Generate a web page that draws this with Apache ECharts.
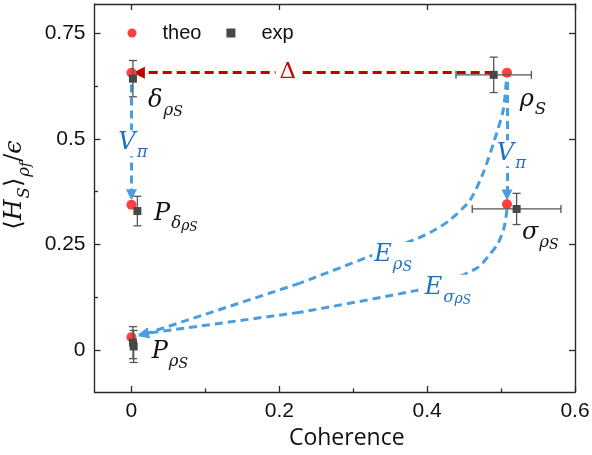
<!DOCTYPE html>
<html><head><meta charset="utf-8">
<script src="https://cdn.jsdelivr.net/npm/echarts@6/dist/echarts.min.js"></script>
<style>html,body{margin:0;padding:0;background:#fff}#c{width:592px;height:455px}</style>
</head><body><div id="c"></div>
<script>
// ---- data ----
const xTicks = [0, 0.2, 0.4, 0.6];
const xMinor = [0.1, 0.3, 0.5];
const yTicks = [0, 0.25, 0.5, 0.75];
const yMinor = [0.125, 0.375, 0.625];
const theoX = [0, 0.508, 0, 0.508, 0];
const theoY = [0.657, 0.657, 0.344, 0.345, 0.030];
const expX = [0.002, 0.490, 0.008, 0.521, 0.002, 0.003];
const expY = [0.643, 0.652, 0.329, 0.334, 0.017, 0.008];
const expXErr = [0, 0.051, 0, 0.060, 0, 0];
const expYErr = [0.043, 0.042, 0.035, 0.037, 0.038, 0.038];
// annotation paths (data coordinates)
const deltaPath = [[0.490, 0.657], [0.010, 0.657]];
const vpiLeftPath = [[0, 0.629], [0, 0.368]];
const vpiRightPath = [[0.508, 0.635], [0.508, 0.367]];
const ePath = [[0.507, 0.636], [0.503, 0.569], [0.491, 0.497], [0.476, 0.420], [0.458, 0.355], [0.431, 0.308], [0.410, 0.284], [0.388, 0.265], [0.323, 0.222], [0.228, 0.158]];
const eArrow = [[0.228, 0.158], [0.016, 0.036]];
const eSigPath = [[0.508, 0.332], [0.504, 0.289], [0.496, 0.253], [0.485, 0.227], [0.469, 0.196], [0.431, 0.165], [0.386, 0.141], [0.228, 0.089]];
const eSigArrow = [[0.228, 0.089], [0.016, 0.038]];
// annotation texts
const pointLabels = [
  {t: '{m|δ}{s|ρ}{ss|S}', at: [0.046, 0.591]},
  {t: '{m|ρ}{s|S}', at: [0.543, 0.593]},
  {t: '{m|P}{s|δ}{ss|ρ}{sss|S}', at: [0.060, 0.322]},
  {t: '{m|σ}{s|ρ}{ss|S}', at: [0.553, 0.277]},
  {t: '{m|P}{s|ρ}{ss|S}', at: [0.052, -0.005]}
];
const lineLabels = [
  {t: '{m|V}{s|π}', at: [0.002, 0.490]},
  {t: '{m|V}{s|π}', at: [0.514, 0.466]},
  {t: '{m|E}{s|ρ}{ss|S}', at: [0.354, 0.225]},
  {t: '{m|E}{s|σ}{ss|ρ}{sss|S}', at: [0.428, 0.147]}
];
const deltaLabel = {t: 'Δ', at: [0.2115, 0.659]};

const MF = '"DejaVu Serif", "Liberation Serif", serif';
function rich(color, k) {
  k = k || 1;
  return {
    m: {fontFamily: MF, fontStyle: 'italic', fontSize: 24 * k, lineHeight: 24 * k, verticalAlign: 'top', color: color},
    s: {fontFamily: MF, fontStyle: 'italic', fontSize: 16.5 * k, lineHeight: 16 * k, padding: [13.5 * k, 0, 0, 1], verticalAlign: 'top', color: color},
    ss: {fontFamily: MF, fontStyle: 'italic', fontSize: 14 * k, lineHeight: 14 * k, padding: [17 * k, 0, 0, 0], verticalAlign: 'top', color: color},
    sss: {fontFamily: MF, fontStyle: 'italic', fontSize: 12 * k, lineHeight: 12 * k, padding: [19.5 * k, 0, 0, 0], verticalAlign: 'top', color: color},
    n: {fontFamily: MF, fontSize: 24 * k, lineHeight: 24 * k, verticalAlign: 'top', color: color}
  };
}
const BLUE = '#4a9ee0', BLUE_T = '#1f70c1', RED = '#c00000';
const XMIN = -0.05, XMAX = 0.6, YMIN = -0.1, YMAX = 0.82;
const AX = '#2b2b2b';
const tickFmt = v => (Math.round(v * 100) / 100).toString();
const HIDDEN = 'rgba(0,0,0,0)';

function xAxisDef(o) {
  return Object.assign({type: 'value', min: XMIN, max: XMAX, splitLine: {show: false},
    axisLine: {show: false, onZero: false}, axisLabel: {show: false}, axisTick: {show: false}}, o);
}
function yAxisDef(o) {
  return Object.assign({type: 'value', min: YMIN, max: YMAX, splitLine: {show: false},
    axisLine: {show: false, onZero: false}, axisLabel: {show: false}, axisTick: {show: false}}, o);
}
const lineStyleAx = {show: true, onZero: false, lineStyle: {color: AX, width: 1.4}};
const labelScatter = {type: 'scatter', silent: true, z: 2, symbolSize: 1,
  itemStyle: {color: HIDDEN, opacity: 1}, emphasis: {disabled: true}};
const TICKFONT = '"Liberation Sans", Arial, sans-serif';

const chart = echarts.init(document.getElementById('c'));
const option = {
  animation: false,
  grid: {left: 94.5, right: 17, top: 4, bottom: 63, containLabel: false, outerBoundsMode: 'none'},
  legend: {
    left: 127.5, top: 23, padding: 0, itemGap: 25, itemWidth: 9, itemHeight: 9,
    formatter: n => '{sp| }' + n,
    textStyle: {fontFamily: TICKFONT, fontSize: 20, color: '#111',
      rich: {sp: {width: 21, fontSize: 20}}},
    data: [{name: 'theo', icon: 'circle'}, {name: 'exp', icon: 'rect'}]
  },
  xAxis: [
    xAxisDef({position: 'bottom', axisLine: lineStyleAx,
      axisTick: {show: true, inside: true, length: 6, lineStyle: {color: AX, width: 1.3}, customValues: xTicks},
      axisLabel: {show: true, customValues: xTicks, formatter: tickFmt, margin: 9,
        fontFamily: TICKFONT, fontSize: 21, color: '#111'},
      name: 'Coherence', nameLocation: 'middle', nameGap: 33,
      nameTextStyle: {fontFamily: '"Open Sans", "Noto Sans", sans-serif', fontSize: 23, color: '#111', padding: [0, 0, 0, 24]}}),
    xAxisDef({position: 'bottom',
      axisTick: {show: true, inside: true, length: 3.5, lineStyle: {color: AX, width: 1.3}, customValues: xMinor}}),
    xAxisDef({position: 'top', axisLine: lineStyleAx,
      axisTick: {show: true, inside: true, length: 6, lineStyle: {color: AX, width: 1.3}, customValues: xTicks}})
  ],
  yAxis: [
    yAxisDef({position: 'left', axisLine: lineStyleAx,
      axisTick: {show: true, inside: true, length: 6, lineStyle: {color: AX, width: 1.3}, customValues: yTicks},
      axisLabel: {show: true, customValues: yTicks, formatter: tickFmt, margin: 9,
        fontFamily: TICKFONT, fontSize: 21, color: '#111'},
      name: '{n|⟨}{m|H}{s|S}{n|⟩}{s|ρ}{ss|f}{n|/}{m|ϵ}', nameLocation: 'middle', nameRotate: 90, nameGap: 64,
      nameTextStyle: {padding: [0, 0, 0, 26], rich: rich('#111', 1.0)}}),
    yAxisDef({position: 'left',
      axisTick: {show: true, inside: true, length: 3.5, lineStyle: {color: AX, width: 1.3}, customValues: yMinor}}),
    yAxisDef({position: 'right', axisLine: lineStyleAx,
      axisTick: {show: true, inside: true, length: 6, lineStyle: {color: AX, width: 1.3}, customValues: yTicks}})
  ],
  series: [
    // theo / exp first so legend picks their colours
    {type: 'scatter', name: 'theo', z: 3, symbol: 'circle', symbolSize: 10,
      itemStyle: {color: '#ff4040', opacity: 1}, data: theoX.map((x, i) => [x, theoY[i]])},
    {type: 'scatter', name: 'exp', z: 5, symbol: 'rect', symbolSize: 8,
      itemStyle: {color: '#474747', opacity: 1}, data: expX.map((x, i) => [x, expY[i]])},
    // exp error bars
    {type: 'custom', name: 'expErr', z: 4, silent: true,
      data: expX.map((x, i) => [x, expY[i], expXErr[i], expYErr[i]]),
      renderItem: function (params, api) {
        const x = api.value(0), y = api.value(1), xe = api.value(2), ye = api.value(3);
        const st = {stroke: '#555', lineWidth: 1.3};
        const ch = [];
        const top = api.coord([x, y + ye]), bot = api.coord([x, y - ye]);
        ch.push({type: 'line', shape: {x1: top[0], y1: top[1], x2: bot[0], y2: bot[1]}, style: st});
        ch.push({type: 'line', shape: {x1: top[0] - 4, y1: top[1], x2: top[0] + 4, y2: top[1]}, style: st});
        ch.push({type: 'line', shape: {x1: bot[0] - 4, y1: bot[1], x2: bot[0] + 4, y2: bot[1]}, style: st});
        if (xe > 0) {
          const l = api.coord([x - xe, y]), r = api.coord([x + xe, y]);
          ch.push({type: 'line', shape: {x1: l[0], y1: l[1], x2: r[0], y2: r[1]}, style: st});
          ch.push({type: 'line', shape: {x1: l[0], y1: l[1] - 4, x2: l[0], y2: l[1] + 4}, style: st});
          ch.push({type: 'line', shape: {x1: r[0], y1: r[1] - 4, x2: r[0], y2: r[1] + 4}, style: st});
        }
        return {type: 'group', children: ch};
      }},
    // annotation curves
    {type: 'line', name: 'ePath', data: ePath, smooth: 0.25, showSymbol: false, symbol: 'none', silent: true, z: 1,
      lineStyle: {color: BLUE, width: 3, type: [8, 5]}},
    {type: 'line', name: 'eSigPath', data: eSigPath, smooth: 0.25, showSymbol: false, symbol: 'none', silent: true, z: 1,
      lineStyle: {color: BLUE, width: 3, type: [8, 5]}},
    {type: 'lines', coordinateSystem: 'cartesian2d', silent: true, z: 1,
      symbol: ['none', 'triangle'], symbolSize: [1, 11],
      lineStyle: {color: BLUE, width: 3, type: [8, 5], opacity: 1},
      data: [{coords: eArrow}, {coords: eSigArrow}, {coords: vpiLeftPath}, {coords: vpiRightPath}]},
    {type: 'lines', coordinateSystem: 'cartesian2d', silent: true, z: 1,
      symbol: ['none', 'triangle'], symbolSize: [1, 12],
      lineStyle: {color: RED, width: 3, type: [9, 5], opacity: 1},
      data: [{coords: deltaPath}]},
    // line labels with white background
    Object.assign({}, labelScatter, {
      data: lineLabels.map(l => ({value: l.at, label: {formatter: l.t}})),
      label: {show: true, position: 'inside', opacity: 1, backgroundColor: '#fff', padding: [1, 2, 1, 2], rich: rich(BLUE_T)}}),
    Object.assign({}, labelScatter, {
      data: [{value: deltaLabel.at, label: {formatter: deltaLabel.t}}],
      label: {show: true, position: 'inside', opacity: 1, backgroundColor: '#fff', padding: [0, 4, 0, 4],
        fontFamily: '"DejaVu Serif", serif', fontSize: 23, color: '#d40000'}}),
    // point labels
    Object.assign({}, labelScatter, {
      data: pointLabels.map(l => ({value: l.at, label: {formatter: l.t}})),
      label: {show: true, position: 'inside', opacity: 1, rich: rich('#111')}})
  ]
};
chart.setOption(option);
</script></body></html>
